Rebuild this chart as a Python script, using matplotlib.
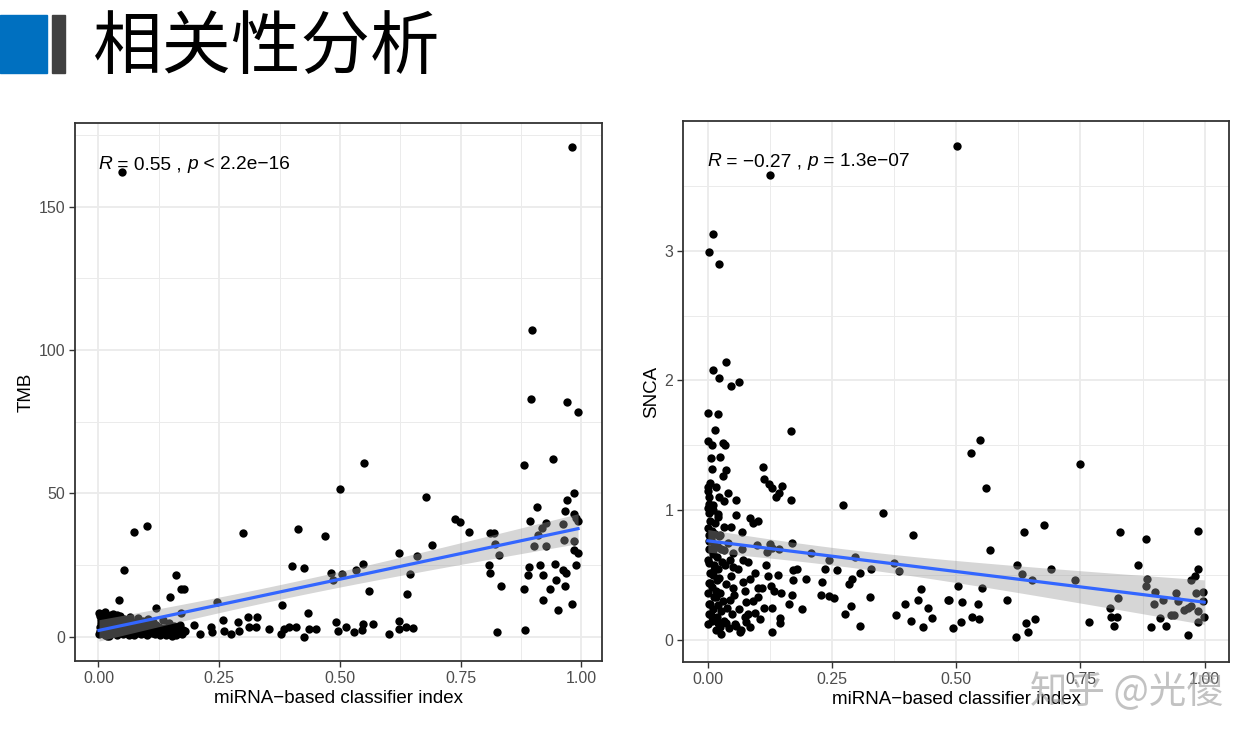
import numpy as np
import matplotlib
matplotlib.use("Agg")
import matplotlib.pyplot as plt
from matplotlib.patches import Rectangle

# ---- data ----
title = "相关性分析"
xlabel = "miRNA\u2212based classifier index"
watermark = "知乎 @光傻"

# left panel: TMB vs classifier index
tmb_x = [0.048, 0.981, 0.898, 0.896, 0.971, 0.992,
         0.073, 0.101, 0.053, 0.042, 0.160, 0.177, 0.171, 0.149, 0.120, 0.170, 0.300, 0.246,
         0.414, 0.469, 0.501, 0.400, 0.426, 0.481, 0.504, 0.486, 0.381, 0.434,
         0.180, 0.198, 0.211, 0.232, 0.236, 0.257, 0.260, 0.274, 0.288, 0.291, 0.309, 0.312,
         0.329, 0.326, 0.353, 0.377, 0.385, 0.395, 0.409, 0.426, 0.436, 0.450, 0.492, 0.495,
         0.550, 0.678, 0.739, 0.749, 0.767, 0.810, 0.819, 0.822, 0.829, 0.808, 0.810, 0.834,
         0.825, 0.882, 0.941, 0.984, 0.971, 0.908, 0.965, 0.985, 0.993, 0.988, 0.894, 0.927,
         0.919, 0.962, 0.910, 0.901, 0.927, 0.964, 0.985, 0.984, 0.993, 0.988, 0.891, 0.915,
         0.945, 0.962, 0.969, 0.889, 0.921, 0.947, 0.965, 0.881, 0.935, 0.921, 0.951, 0.981,
         0.884, 0.533, 0.548, 0.561, 0.623, 0.659, 0.690, 0.645, 0.639,
         0.513, 0.530, 0.547, 0.545, 0.569, 0.602, 0.623, 0.623, 0.637, 0.651,
         0.002, 0.003, 0.004, 0.005, 0.006, 0.004, 0.008, 0.009, 0.010, 0.011, 0.012, 0.013,
         0.015, 0.016, 0.018, 0.019, 0.020, 0.022, 0.023, 0.025, 0.026, 0.027, 0.029, 0.030,
         0.032, 0.033, 0.035, 0.036, 0.038, 0.040, 0.041, 0.043, 0.045, 0.046, 0.048, 0.050,
         0.052, 0.054, 0.055, 0.057, 0.059, 0.061, 0.063, 0.064, 0.066, 0.068, 0.070, 0.072,
         0.074, 0.076, 0.078, 0.080, 0.082, 0.084, 0.086, 0.088, 0.090, 0.092, 0.094, 0.096,
         0.098, 0.100, 0.103, 0.105, 0.107, 0.110, 0.112, 0.115, 0.117, 0.120, 0.122, 0.125,
         0.128, 0.130, 0.133, 0.135, 0.138, 0.140, 0.143, 0.146, 0.148, 0.150, 0.153, 0.156,
         0.158, 0.160, 0.163, 0.166, 0.168, 0.172, 0.175,
         0.001, 0.007, 0.014, 0.017, 0.021, 0.031, 0.039]
tmb_y = [161.9, 170.6, 107.0, 82.9, 81.8, 78.3,
         36.5, 38.7, 23.1, 12.8, 21.3, 16.5, 16.5, 13.7, 9.9, 8.3, 36.2, 11.9,
         37.4, 35.0, 51.3, 24.6, 24.0, 22.3, 21.7, 19.6, 11.1, 8.2,
         2.1, 4.2, 0.9, 3.3, 1.5, 5.6, 2.1, 0.9, 4.9, 2.1, 6.8, 3.3,
         6.8, 3.3, 2.7, 0.9, 2.7, 3.3, 3.3, 0.0, 2.7, 2.7, 4.9, 2.1,
         60.4, 48.7, 41.0, 39.9, 36.4, 36.2, 36.2, 32.4, 28.3, 25.1, 22.3, 17.5,
         1.5, 60.0, 62.0, 50.2, 47.6, 45.3, 43.9, 42.8, 40.3, 41.5, 40.2, 39.6,
         37.7, 39.4, 35.3, 31.5, 31.5, 33.6, 33.3, 30.3, 29.3, 24.8, 24.2, 24.8,
         25.2, 23.1, 22.0, 21.4, 21.5, 19.6, 17.6, 16.7, 16.7, 12.8, 9.3, 11.3,
         2.4, 23.1, 25.2, 15.8, 29.3, 28.0, 31.8, 21.9, 14.9,
         3.5, 1.5, 4.5, 2.4, 4.3, 0.9, 5.5, 2.6, 3.5, 3.1,
         0.8, 2.1, 3.4, 4.6, 5.9, 7.0, 1.5, 2.9, 4.0, 5.3, 6.4, 0.6,
         2.4, 3.8, 5.1, 6.8, 1.1, 3.0, 4.4, 7.5, 0.9, 2.0, 5.6, 3.6,
         1.4, 6.2, 2.7, 4.8, 0.5, 3.2, 5.4, 1.8, 7.2, 2.5, 4.1, 0.8,
         6.0, 3.0, 1.6, 4.9, 2.2, 5.7, 0.7, 3.5, 6.7, 1.9, 4.3, 2.8,
         0.6, 5.2, 3.3, 1.3, 6.3, 2.4, 4.5, 0.9, 3.1, 5.5, 1.7, 2.6,
         4.0, 0.5, 6.1, 2.0, 3.7, 1.2, 5.0, 2.9, 0.8, 4.2, 1.6, 3.4,
         0.4, 2.3, 5.8, 1.1, 3.0, 0.7, 2.0, 4.6, 1.4, 2.6, 0.3, 3.8,
         1.8, 0.6, 2.8, 1.2, 4.0, 0.9, 2.2,
         8.2, 7.8, 8.4, 0.3, 0.2, 8.0, 7.6]

# right panel: SNCA vs classifier index
snca_x = [0.010, 0.002, 0.022, 0.126, 0.501,
          0.037, 0.010, 0.022, 0.047, 0.062, 0.000, 0.020, 0.015, 0.168,
          0.001, 0.009, 0.030, 0.035, 0.007, 0.025, 0.009, 0.037, 0.031, 0.112,
          0.113, 0.124, 0.129, 0.149, 0.144, 0.138,
          0.005, 0.000, 0.017, 0.023, 0.040, 0.033, 0.057, 0.168, 0.272, 0.353, 0.413,
          0.002, 0.010, 0.003, 0.020, 0.057, 0.033, 0.047, 0.069, 0.084, 0.090, 0.102, 0.015, 0.025, 0.003,
          0.040, 0.020, 0.002, 0.010, 0.033, 0.069, 0.050, 0.070, 0.098, 0.125, 0.144, 0.129, 0.170, 0.120,
          0.207, 0.244, 0.297, 0.374, 0.236, 0.259, 0.172, 0.179, 0.306, 0.329, 0.384,
          0.050, 0.047, 0.084, 0.122, 0.142, 0.172, 0.197, 0.229,
          0.003, 0.013, 0.023, 0.005, 0.037, 0.050, 0.074, 0.100, 0.127, 0.134, 0.147, 0.170, 0.227,
          0.244, 0.254, 0.284, 0.290, 0.327, 0.430, 0.424, 0.484,
          0.017, 0.044, 0.077, 0.100, 0.114, 0.130, 0.164, 0.190, 0.080, 0.094, 0.003, 0.007, 0.020,
          0.037, 0.027, 0.057, 0.065, 0.077, 0.129, 0.145, 0.145, 0.277, 0.288, 0.306, 0.379, 0.396,
          0.409, 0.434, 0.444, 0.451,
          0.547, 0.529, 0.560, 0.749, 0.568, 0.637, 0.677, 0.830, 0.881, 0.986, 0.622, 0.632, 0.652,
          0.690, 0.739, 0.866, 0.884, 0.882, 0.986, 0.981, 0.973,
          0.901, 0.942, 0.916, 0.899, 0.947, 0.972, 0.982, 0.996, 0.996, 0.987, 0.959, 0.939, 0.966,
          0.932, 0.911, 0.922, 0.891, 0.967, 0.986, 0.999,
          0.810, 0.826, 0.811, 0.824, 0.817, 0.767,
          0.503, 0.551, 0.486, 0.512, 0.544, 0.602, 0.532, 0.545, 0.510, 0.494, 0.640, 0.659, 0.644, 0.621,
          0.000, 0.002, 0.004, 0.001, 0.003, 0.005, 0.000, 0.002, 0.006, 0.001, 0.004, 0.000, 0.003,
          0.001, 0.008, 0.010, 0.012, 0.009, 0.011, 0.013, 0.010, 0.012, 0.009, 0.014, 0.011, 0.016,
          0.018, 0.020, 0.017, 0.019, 0.021, 0.018, 0.022, 0.020, 0.025, 0.027, 0.024, 0.028, 0.026,
          0.030, 0.032, 0.035, 0.038, 0.042, 0.045, 0.048, 0.052, 0.055, 0.060, 0.062, 0.066, 0.070,
          0.074, 0.080, 0.085, 0.090, 0.095, 0.105, 0.110, 0.118]
snca_y = [3.13, 2.99, 2.90, 3.58, 3.81,
          2.14, 2.08, 2.02, 1.96, 1.99, 1.75, 1.74, 1.62, 1.61,
          1.53, 1.50, 1.52, 1.50, 1.40, 1.41, 1.32, 1.31, 1.26, 1.33,
          1.24, 1.20, 1.17, 1.19, 1.13, 1.10,
          1.21, 1.15, 1.18, 1.10, 1.13, 1.07, 1.08, 1.08, 1.04, 0.98, 0.81,
          1.05, 1.00, 0.98, 0.95, 0.96, 0.87, 0.87, 0.83, 0.94, 0.90, 0.92, 0.82, 0.81, 0.81,
          0.75, 0.72, 0.76, 0.69, 0.69, 0.70, 0.67, 0.62, 0.73, 0.74, 0.70, 0.71, 0.75, 0.68,
          0.67, 0.62, 0.64, 0.59, 0.55, 0.54, 0.54, 0.55, 0.52, 0.55, 0.53,
          0.56, 0.49, 0.47, 0.49, 0.50, 0.46, 0.47, 0.45,
          0.59, 0.54, 0.48, 0.44, 0.43, 0.40, 0.38, 0.40, 0.42, 0.38, 0.36, 0.35, 0.35,
          0.34, 0.32, 0.43, 0.47, 0.33, 0.39, 0.31, 0.31,
          0.33, 0.31, 0.29, 0.33, 0.25, 0.25, 0.28, 0.24, 0.20, 0.21, 0.28, 0.19, 0.13,
          0.13, 0.05, 0.11, 0.06, 0.14, 0.06, 0.17, 0.13, 0.20, 0.26, 0.11, 0.19, 0.28,
          0.15, 0.10, 0.25, 0.17,
          1.54, 1.44, 1.17, 1.36, 0.69, 0.83, 0.89, 0.83, 0.78, 0.84, 0.58, 0.51, 0.46,
          0.55, 0.46, 0.58, 0.47, 0.42, 0.55, 0.49, 0.46,
          0.37, 0.36, 0.31, 0.28, 0.30, 0.26, 0.36, 0.37, 0.30, 0.22, 0.23, 0.19, 0.25,
          0.19, 0.17, 0.11, 0.10, 0.04, 0.14, 0.18,
          0.25, 0.32, 0.18, 0.18, 0.11, 0.14,
          0.42, 0.40, 0.31, 0.29, 0.28, 0.31, 0.18, 0.16, 0.14, 0.09, 0.13, 0.16, 0.06, 0.02,
          0.12, 0.20, 0.28, 0.36, 0.44, 0.52, 0.62, 0.70, 0.78, 0.86, 0.92, 1.02, 1.10,
          1.18, 0.15, 0.24, 0.33, 0.41, 0.50, 0.58, 0.66, 0.74, 0.84, 0.90, 1.04, 0.08,
          0.18, 0.27, 0.38, 0.46, 0.55, 0.64, 0.80, 0.97, 0.10, 0.22, 0.36, 0.60, 0.70,
          0.30, 0.15, 0.58, 0.25, 0.09, 0.62, 0.20, 0.35, 0.12, 0.55, 0.24, 0.08, 0.45,
          0.18, 0.60, 0.10, 0.30, 0.52, 0.16, 0.40, 0.58]

tmb_label = ["R", " = 0.55 , ", "p", " < 2.2e\u221216"]
snca_label = ["R", " = \u22120.27 , ", "p", " = 1.3e\u221207"]

panels = [
    (tmb_x, tmb_y, "TMB", [0, 50, 100, 150], tmb_label, 0.922),
    (snca_x, snca_y, "SNCA", [0, 1, 2, 3], snca_label, 0.925),
]

plt.rcParams['font.family'] = ['Liberation Sans', 'DejaVu Sans']

fig = plt.figure(figsize=(12.57, 7.45), dpi=100)
fig.patch.set_facecolor("white")

# slide header
fig.patches.append(Rectangle((0, 1 - 73/745), 47/1257, 58/745, transform=fig.transFigure,
                             color="#0070C0", zorder=2))
fig.patches.append(Rectangle((52/1257, 1 - 73/745), 13/1257, 58/745, transform=fig.transFigure,
                             color="#404040", zorder=2))
fig.text(93/1257, 1 - 48/745, title, fontsize=50, va="center", ha="left",
         family=['Noto Sans CJK SC', 'DejaVu Sans'], color="black")

boxes = [[75/1257, 1 - 661/745, 527/1257, 538/745],
         [683/1257, 1 - 662/745, 546/1257, 541/745]]

for (xs, ys, ylab, yticks, parts, ty), box in zip(panels, boxes):
    ax = fig.add_axes(box)
    x = np.array(xs)
    y = np.array(ys)

    # linear fit with 95% confidence band (like geom_smooth(method = "lm"))
    n = len(x)
    b, a = np.polyfit(x, y, 1)
    res = y - (a + b * x)
    s = np.sqrt(np.sum(res**2) / (n - 2))
    xg = np.linspace(x.min(), x.max(), 80)
    fit = a + b * xg
    se = s * np.sqrt(1/n + (xg - x.mean())**2 / np.sum((x - x.mean())**2))
    ax.scatter(x, y, s=36, color="black", linewidths=0, zorder=3)
    ax.fill_between(xg, fit - 1.97*se, fit + 1.97*se, color="#999999", alpha=0.4,
                    linewidth=0, zorder=4)
    ax.plot(xg, fit, color="#3366FF", lw=2.3, zorder=5)

    # ggplot-like limits (5% expansion)
    xr = x.max() - x.min()
    yr = y.max() - y.min()
    ax.set_xlim(x.min() - 0.05*xr, x.max() + 0.05*xr)
    ax.set_ylim(y.min() - 0.05*yr, y.max() + 0.05*yr)

    ax.set_xticks([0, 0.25, 0.5, 0.75, 1.0])
    ax.set_xticklabels(["0.00", "0.25", "0.50", "0.75", "1.00"])
    ax.set_yticks(yticks)
    ax.set_xticks([0.125, 0.375, 0.625, 0.875], minor=True)
    step = yticks[1] - yticks[0]
    ax.set_yticks([t + step/2 for t in yticks], minor=True)
    ax.grid(True, which="major", color="#EBEBEB", lw=1.3, zorder=0)
    ax.grid(True, which="minor", color="#EBEBEB", lw=0.7, zorder=0)
    ax.set_axisbelow(True)
    ax.tick_params(which="minor", length=0)
    ax.tick_params(which="major", length=4, width=1, color="#333333",
                   labelsize=11.5, labelcolor="#4D4D4D", pad=3)
    for sp in ax.spines.values():
        sp.set_color("#333333")
        sp.set_linewidth(1.3)
    ax.set_xlabel(xlabel, fontsize=13.5, labelpad=3)
    ax.set_ylabel(ylab, fontsize=13.5, labelpad=3)

    # correlation label: italic R and p, pieces laid out one after another
    xpos = 0.045
    for i, p in enumerate(parts):
        t = ax.text(xpos, ty, p, transform=ax.transAxes, fontsize=13.8,
                    style="italic" if i % 2 == 0 else "normal", va="center", ha="left")
        fig.canvas.draw()
        bb = t.get_window_extent().transformed(ax.transAxes.inverted())
        xpos = bb.x1

fig.text(1030/1257, 1 - 693/745, watermark, fontsize=27, color="#9a9a9a", alpha=0.6,
         family=['Noto Sans CJK SC', 'DejaVu Sans'], va="center", ha="left", zorder=10)

fig.savefig("out.png", dpi=100, facecolor="white")
